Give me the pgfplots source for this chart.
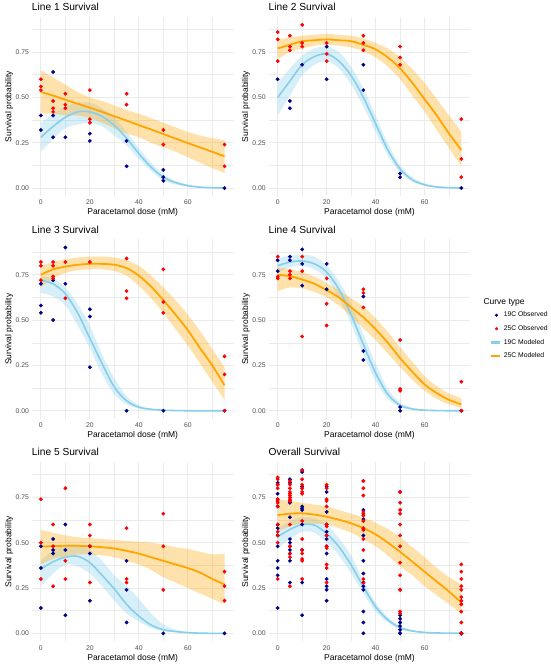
\documentclass[border=0pt]{standalone}
\usepackage{fontspec}
\setmainfont{Liberation Sans}
\usepackage{pgfplots}
\pgfplotsset{compat=1.18}
\usepackage{pgfplotstable}
\usepgfplotslibrary{fillbetween}

\definecolor{darkblue}{HTML}{00008B}
\definecolor{myred}{HTML}{FF0000}
\definecolor{skyblue}{HTML}{87CEEB}
\definecolor{myorange}{HTML}{FFA500}
\definecolor{tickgrey}{HTML}{4D4D4D}
\definecolor{gridgrey}{HTML}{EBEBEB}

% ---------- observed points ----------
\pgfplotstableread{
x y
0 0.40
0 0.32
5 0.64
5 0.40
5 0.28
10 0.28
20 0.30
20 0.26
35 0.26
35 0.12
50 0.10
50 0.06
50 0.04
75 0
}\LoneB
\pgfplotstableread{
x y
0 0.60
0 0.56
0 0.54
5 0.48
5 0.44
5 0.42
10 0.52
10 0.46
10 0.44
20 0.54
20 0.38
20 0.36
35 0.52
35 0.46
50 0.32
50 0.24
75 0.24
75 0.12
}\LoneR
\pgfplotstableread{
x y
0 0.60
5 0.48
5 0.44
10 0.68
20 0.78
20 0.60
35 0.68
35 0.54
50 0.08
50 0.06
75 0
}\LtwoB
\pgfplotstableread{
x y
0 0.86
0 0.82
0 0.70
5 0.84
5 0.78
5 0.76
10 0.90
10 0.80
10 0.78
20 0.80
20 0.74
20 0.70
35 0.84
35 0.80
35 0.76
50 0.78
50 0.72
50 0.68
75 0.38
75 0.16
75 0.06
}\LtwoR
\pgfplotstableread{
x y
0 0.70
0 0.58
0 0.54
5 0.72
5 0.50
10 0.90
10 0.70
20 0.56
20 0.52
20 0.24
35 0
50 0
75 0
}\LthreeB
\pgfplotstableread{
x y
0 0.82
0 0.80
0 0.72
5 0.82
5 0.80
5 0.74
5 0.73
10 0.82
10 0.62
20 0.82
35 0.84
35 0.66
35 0.62
50 0.78
50 0.60
50 0.54
75 0.30
75 0.20
75 0
}\LthreeR
\pgfplotstableread{
x y
0 0.83
0 0.77
5 0.85
5 0.83
10 0.89
10 0.81
10 0.69
20 0.81
20 0.67
35 0.63
35 0.33
35 0.28
50 0.02
50 0
75 0
}\LfourB
\pgfplotstableread{
x y
0 0.85
0 0.74
0 0.73
5 0.77
5 0.75
5 0.73
10 0.85
10 0.77
10 0.41
20 0.73
20 0.59
20 0.47
35 0.67
35 0.65
35 0.57
50 0.39
50 0.12
50 0.11
75 0.16
75 0
}\LfourR
\pgfplotstableread{
x y
0 0.48
0 0.36
0 0.14
5 0.52
5 0.46
5 0.44
10 0.60
10 0.46
10 0.10
20 0.48
20 0.44
20 0.18
35 0.40
35 0.24
35 0.06
50 0
75 0
}\LfiveB
\pgfplotstableread{
x y
0 0.74
0 0.50
0 0.30
5 0.60
5 0.48
5 0.26
10 0.80
10 0.40
10 0.30
20 0.60
20 0.54
20 0.48
20 0.28
35 0.58
35 0.30
35 0.28
50 0.66
50 0.48
50 0.24
75 0.34
75 0.26
75 0.18
}\LfiveR

% ---------- modelled curves: x, 19C fit/lo/hi, 25C fit/lo/hi ----------
\pgfplotstableread{
x  bl    bll   blh   ol    oll   olh
0  0.28  0.20  0.36  0.53  0.41  0.65
5  0.34  0.27  0.41  0.51  0.41  0.61
10 0.39  0.33  0.45  0.487 0.40  0.57
15 0.42  0.35  0.47  0.465 0.40  0.53
20 0.42  0.36  0.47  0.443 0.385 0.50
25 0.395 0.34  0.44  0.42  0.36  0.48
30 0.345 0.29  0.39  0.396 0.33  0.455
35 0.275 0.235 0.31  0.372 0.30  0.43
40 0.19  0.16  0.22  0.347 0.28  0.41
45 0.115 0.095 0.14  0.323 0.25  0.385
50 0.06  0.04  0.075 0.298 0.225 0.36
55 0.03  0.02  0.04  0.273 0.20  0.335
60 0.013 0.007 0.02  0.248 0.17  0.31
65 0.005 0.002 0.008 0.224 0.14  0.29
70 0.002 0.0   0.003 0.20  0.11  0.275
75 0.0   0.0   0.001 0.175 0.083 0.265
}\CurveOne
\pgfplotstableread{
x  bl    bll   blh   ol    oll   olh
0  0.50  0.40  0.58  0.77  0.71  0.82
5  0.59  0.51  0.66  0.79  0.75  0.83
10 0.68  0.62  0.73  0.81  0.77  0.84
15 0.725 0.68  0.77  0.815 0.785 0.845
20 0.74  0.70  0.78  0.82  0.79  0.85
25 0.70  0.66  0.75  0.815 0.785 0.845
30 0.62  0.57  0.67  0.81  0.775 0.84
35 0.50  0.45  0.55  0.79  0.755 0.825
40 0.355 0.31  0.40  0.765 0.72  0.80
45 0.21  0.18  0.245 0.72  0.67  0.77
50 0.105 0.085 0.125 0.66  0.60  0.72
55 0.045 0.035 0.06  0.58  0.51  0.655
60 0.018 0.012 0.025 0.49  0.42  0.58
65 0.006 0.003 0.01  0.40  0.32  0.49
70 0.002 0.0   0.004 0.30  0.22  0.40
75 0.0   0.0   0.001 0.21  0.12  0.31
}\CurveTwo
\pgfplotstableread{
x  bl    bll   blh   ol    oll   olh
0  0.72  0.65  0.74  0.75  0.68  0.80
5  0.70  0.63  0.73  0.78  0.73  0.82
10 0.645 0.58  0.68  0.795 0.76  0.835
15 0.54  0.47  0.59  0.805 0.775 0.845
20 0.40  0.345 0.47  0.81  0.78  0.85
25 0.26  0.20  0.31  0.81  0.78  0.85
30 0.13  0.09  0.18  0.805 0.77  0.845
35 0.055 0.035 0.08  0.787 0.745 0.83
40 0.02  0.012 0.03  0.745 0.69  0.80
45 0.008 0.004 0.012 0.685 0.62  0.745
50 0.003 0.001 0.005 0.61  0.54  0.68
55 0.001 0.0   0.002 0.53  0.45  0.61
60 0.0   0.0   0.001 0.445 0.36  0.53
65 0.0   0.0   0.0   0.345 0.26  0.44
70 0.0   0.0   0.0   0.25  0.16  0.34
75 0.0   0.0   0.0   0.14  0.06  0.24
}\CurveThree
\pgfplotstableread{
x  bl    bll   blh   ol    oll   olh
0  0.80  0.76  0.84  0.75  0.66  0.79
5  0.82  0.79  0.855 0.742 0.68  0.78
10 0.826 0.80  0.86  0.724 0.675 0.765
15 0.81  0.78  0.85  0.70  0.655 0.74
20 0.765 0.73  0.80  0.665 0.625 0.705
25 0.67  0.62  0.715 0.625 0.58  0.665
30 0.53  0.48  0.59  0.57  0.52  0.62
35 0.366 0.31  0.42  0.515 0.455 0.575
40 0.208 0.165 0.26  0.45  0.39  0.51
45 0.09  0.065 0.12  0.375 0.315 0.435
50 0.03  0.02  0.045 0.29  0.24  0.35
55 0.01  0.005 0.016 0.215 0.17  0.27
60 0.003 0.001 0.006 0.145 0.11  0.19
65 0.001 0.0   0.002 0.097 0.065 0.135
70 0.0   0.0   0.001 0.06  0.035 0.095
75 0.0   0.0   0.0   0.035 0.015 0.07
}\CurveFour
\pgfplotstableread{
x  bl    bll   blh   ol    oll   olh
0  0.355 0.26  0.40  0.478 0.38  0.57
5  0.395 0.33  0.46  0.481 0.41  0.555
10 0.42  0.38  0.49  0.483 0.425 0.54
15 0.425 0.37  0.49  0.483 0.435 0.53
20 0.39  0.33  0.46  0.48  0.435 0.525
25 0.32  0.26  0.40  0.475 0.43  0.52
30 0.245 0.18  0.32  0.468 0.42  0.515
35 0.16  0.11  0.26  0.455 0.40  0.51
40 0.095 0.065 0.19  0.44  0.38  0.505
45 0.046 0.03  0.11  0.42  0.35  0.50
50 0.02  0.012 0.05  0.40  0.31  0.49
55 0.01  0.005 0.02  0.38  0.28  0.475
60 0.004 0.001 0.008 0.36  0.25  0.465
65 0.001 0.0   0.003 0.335 0.22  0.45
70 0.0   0.0   0.001 0.30  0.19  0.435
75 0.0   0.0   0.0   0.27  0.16  0.44
}\CurveFive
\pgfplotstableread{
x  bl    bll   blh   ol    oll   olh
0  0.533 0.47  0.58  0.652 0.56  0.74
5  0.573 0.52  0.62  0.66  0.59  0.73
10 0.60  0.56  0.64  0.662 0.605 0.72
15 0.597 0.555 0.635 0.655 0.605 0.71
20 0.55  0.50  0.60  0.643 0.60  0.70
25 0.478 0.43  0.525 0.627 0.58  0.68
30 0.377 0.33  0.43  0.607 0.555 0.66
35 0.257 0.22  0.29  0.58  0.52  0.64
40 0.147 0.12  0.17  0.546 0.48  0.61
45 0.074 0.06  0.09  0.50  0.43  0.575
50 0.031 0.022 0.04  0.45  0.37  0.53
55 0.013 0.008 0.018 0.395 0.32  0.475
60 0.005 0.002 0.008 0.34  0.26  0.42
65 0.002 0.0   0.003 0.285 0.21  0.36
70 0.001 0.0   0.001 0.23  0.16  0.31
75 0.0   0.0   0.0   0.17  0.11  0.27
}\CurveAll

\pgfplotsset{
  panel/.style={
    scale only axis, width=202pt, height=179.5pt, anchor=north west,
    xmin=-3.75, xmax=78.75, ymin=-0.045, ymax=0.945,
    xtick={0,20,40,60}, ytick={0,0.25,0.5,0.75},
    yticklabels={0.00,0.25,0.50,0.75},
    minor xtick={10,30,50,70}, minor ytick={0.125,0.375,0.625,0.875},
    grid=both,
    major grid style={draw=gridgrey, line width=0.8pt},
    minor grid style={draw=gridgrey, line width=0.45pt},
    axis line style={draw=none},
    major tick length=0pt, minor tick length=0pt,
    /pgf/number format/assume math mode=true,
    every tick label/.append style={font=\fontsize{6.8}{8}\selectfont, text=tickgrey},
    xticklabel style={anchor=base, yshift=-8.8pt, inner sep=0pt},
    yticklabel style={anchor=east, xshift=-2.6pt, inner sep=0pt},
    xlabel={Paracetamol dose (mM)},
    ylabel={Survival probability},
    label style={font=\fontsize{8.5}{10}\selectfont},
    xlabel style={at={(axis description cs:0.5,0)}, anchor=base, yshift=-18.8pt, inner sep=0pt},
    ylabel style={at={(axis description cs:0,0.5)}, rotate=0, anchor=base, yshift=20.3pt, inner sep=0pt},
    title style={at={(axis description cs:0,1)}, anchor=base west, yshift=0.2pt, inner sep=0pt, font=\fontsize{10.2}{12}\selectfont},
  },
  bpts/.style={only marks, mark=*, mark size=1.7pt, color=darkblue, mark options={draw=none, fill=darkblue}, forget plot},
  rpts/.style={only marks, mark=*, mark size=1.7pt, color=myred, mark options={draw=none, fill=myred}, forget plot},
  legdot/.style={only marks, mark=*, mark size=1.3pt, color=#1, mark options={draw=none, fill=#1},
    legend image code/.code={\draw[##1] plot coordinates {(8.5pt,0pt)};}},
  legline/.style={color=#1, line width=2.6pt,
    legend image code/.code={\draw[##1] (3.5pt,0pt) -- (11.8pt,0pt);}},
}

\newcommand{\curves}[2]{%
  \addplot[draw=none, smooth, forget plot, name path=bu#2] table[x=x,y=blh]{#1};
  \addplot[draw=none, smooth, forget plot, name path=bd#2] table[x=x,y=bll]{#1};
  \addplot[fill=skyblue, fill opacity=0.33, draw=none, forget plot] fill between[of=bu#2 and bd#2];
  \addplot[draw=none, smooth, forget plot, name path=ou#2] table[x=x,y=olh]{#1};
  \addplot[draw=none, smooth, forget plot, name path=od#2] table[x=x,y=oll]{#1};
  \addplot[fill=myorange, fill opacity=0.33, draw=none, forget plot] fill between[of=ou#2 and od#2];
  \addplot[skyblue, line width=1.6pt, smooth, forget plot] table[x=x,y=bl]{#1};
  \addplot[myorange, line width=1.8pt, smooth, forget plot] table[x=x,y=ol]{#1};
}

\begin{document}
\begin{tikzpicture}

\begin{axis}[panel, at={(31.7pt,-16.7pt)}, title={Line 1 Survival}]
  \curves{\CurveOne}{a}
  \addplot[bpts] table {\LoneB};
  \addplot[rpts] table {\LoneR};
\end{axis}

\begin{axis}[panel, at={(268.5pt,-16.7pt)}, title={Line 2 Survival}]
  \curves{\CurveTwo}{b}
  \addplot[bpts] table {\LtwoB};
  \addplot[rpts] table {\LtwoR};
\end{axis}

\begin{axis}[panel, at={(31.7pt,-239.4pt)}, title={Line 3 Survival}]
  \curves{\CurveThree}{c}
  \addplot[bpts] table {\LthreeB};
  \addplot[rpts] table {\LthreeR};
\end{axis}

\begin{axis}[panel, at={(268.5pt,-239.4pt)}, title={Line 4 Survival},
  legend style={at={(axis description cs:1.0965,0.597)}, anchor=north west,
    draw=none, fill=none, inner sep=0pt, row sep=7.05pt, column sep=2.7pt,
    font=\fontsize{6.8}{8}\selectfont,
    nodes={inner sep=0pt, text height=5pt, text depth=1.5pt}},
  legend cell align=left]
  \curves{\CurveFour}{d}
  \addplot[bpts] table {\LfourB};
  \addplot[rpts] table {\LfourR};
  \addlegendimage{legdot=darkblue}
  \addlegendentry{19C Observed}
  \addlegendimage{legdot=myred}
  \addlegendentry{25C Observed}
  \addlegendimage{legline=skyblue}
  \addlegendentry{19C Modeled}
  \addlegendimage{legline=myorange}
  \addlegendentry{25C Modeled}
\end{axis}

\begin{axis}[panel, at={(31.7pt,-462pt)}, title={Line 5 Survival}]
  \curves{\CurveFive}{e}
  \addplot[bpts] table {\LfiveB};
  \addplot[rpts] table {\LfiveR};
\end{axis}

\begin{axis}[panel, at={(268.5pt,-462pt)}, title={Overall Survival}]
  \curves{\CurveAll}{f}
  \addplot[bpts] table {\LoneB};
  \addplot[bpts] table {\LtwoB};
  \addplot[bpts] table {\LthreeB};
  \addplot[bpts] table {\LfourB};
  \addplot[bpts] table {\LfiveB};
  \addplot[rpts] table {\LoneR};
  \addplot[rpts] table {\LtwoR};
  \addplot[rpts] table {\LthreeR};
  \addplot[rpts] table {\LfourR};
  \addplot[rpts] table {\LfiveR};
\end{axis}

\node[anchor=base west, inner sep=0pt, font=\fontsize{8.5}{10}\selectfont] at (483.3pt,-304.5pt) {Curve type};
\path (0pt,0pt) rectangle (550pt,-665pt);
\end{tikzpicture}
\end{document}
